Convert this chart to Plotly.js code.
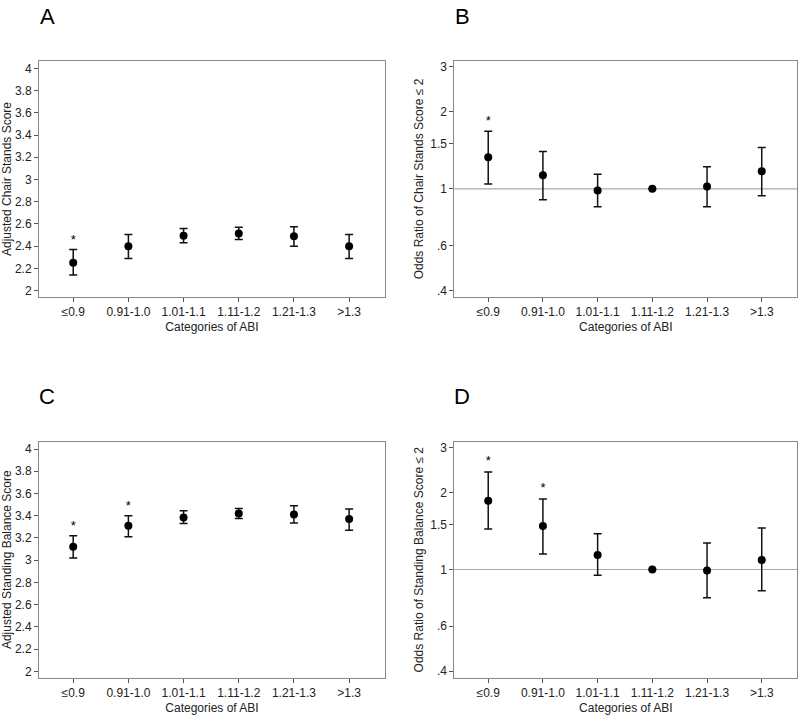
<!DOCTYPE html>
<html>
<head>
<meta charset="utf-8">
<script src="https://cdn.plot.ly/plotly-3.0.1.min.js"></script>
<style>html,body{margin:0;padding:0;background:#fff;}#chart{width:800px;height:715px;}</style>
</head>
<body>
<div id="chart"></div>
<script>
const categories = ['≤0.9', '0.91-1.0', '1.01-1.1', '1.11-1.2', '1.21-1.3', '>1.3'];

// Panel A: Adjusted Chair Stands Score
const chairScore = [2.25, 2.40, 2.495, 2.515, 2.49, 2.40];
const chairScoreLow = [2.14, 2.29, 2.43, 2.46, 2.40, 2.29];
const chairScoreHigh = [2.37, 2.505, 2.56, 2.57, 2.575, 2.505];
const chairScoreSig = [true, false, false, false, false, false];

// Panel B: Odds ratio of chair stands score <= 2
const chairOR = [1.33, 1.13, 0.985, 1.0, 1.02, 1.17];
const chairORLow = [1.045, 0.905, 0.85, 1.0, 0.85, 0.94];
const chairORHigh = [1.68, 1.40, 1.14, 1.0, 1.22, 1.45];
const chairORSig = [true, false, false, false, false, false];

// Panel C: Adjusted Standing Balance Score
const balScore = [3.12, 3.31, 3.385, 3.42, 3.41, 3.37];
const balScoreLow = [3.02, 3.21, 3.33, 3.375, 3.335, 3.27];
const balScoreHigh = [3.22, 3.40, 3.445, 3.465, 3.49, 3.46];
const balScoreSig = [true, true, false, false, false, false];

// Panel D: Odds ratio of standing balance score <= 2
const balOR = [1.86, 1.48, 1.14, 1.0, 0.99, 1.09];
const balORLow = [1.44, 1.15, 0.95, 1.0, 0.775, 0.825];
const balORHigh = [2.41, 1.89, 1.38, 1.0, 1.27, 1.455];
const balORSig = [true, true, false, false, false, false];

const linTicks = [2, 2.2, 2.4, 2.6, 2.8, 3, 3.2, 3.4, 3.6, 3.8, 4];
const logTicks = [0.4, 0.6, 1, 1.5, 2, 3];
const logTickText = ['.4', '.6', '1', '1.5', '2', '3'];

const FONT = 'Liberation Sans, Arial, sans-serif';

function pointTrace(est, lo, hi, xa, ya) {
  return {
    type: 'scatter', mode: 'markers', x: categories, y: est,
    xaxis: xa, yaxis: ya,
    marker: {color: '#000', size: 8},
    error_y: {
      type: 'data', symmetric: false,
      array: hi.map((h, i) => h - est[i]),
      arrayminus: lo.map((l, i) => est[i] - l),
      color: '#111', thickness: 1.5, width: 4
    },
    hoverinfo: 'skip', showlegend: false, cliponaxis: false
  };
}
function starTrace(hi, sig, xa, ya, isLog) {
  const xs = [], ys = [];
  sig.forEach((s, i) => {
    if (s) { xs.push(categories[i]); ys.push(isLog ? hi[i] * 1.03 : hi[i] + 0.02); }
  });
  return {
    type: 'scatter', mode: 'text', x: xs, y: ys, text: xs.map(() => '*'),
    textposition: 'top center', textfont: {family: FONT, size: 13, color: '#000'},
    xaxis: xa, yaxis: ya, hoverinfo: 'skip', showlegend: false, cliponaxis: false
  };
}

const data = [
  pointTrace(chairScore, chairScoreLow, chairScoreHigh, 'x', 'y'),
  starTrace(chairScoreHigh, chairScoreSig, 'x', 'y', false),
  pointTrace(chairOR, chairORLow, chairORHigh, 'x2', 'y2'),
  starTrace(chairORHigh, chairORSig, 'x2', 'y2', true),
  pointTrace(balScore, balScoreLow, balScoreHigh, 'x3', 'y3'),
  starTrace(balScoreHigh, balScoreSig, 'x3', 'y3', false),
  pointTrace(balOR, balORLow, balORHigh, 'x4', 'y4'),
  starTrace(balORHigh, balORSig, 'x4', 'y4', true)
];

function xAxis(domain, anchor) {
  return {
    domain: domain, anchor: anchor, type: 'category', categoryorder: 'array', categoryarray: categories,
    range: [-0.62, 5.65], showgrid: false, zeroline: false,
    showline: true, linecolor: '#888', linewidth: 1, mirror: true,
    ticks: 'outside', ticklen: 4, tickcolor: '#555',
    tickfont: {family: FONT, size: 12, color: '#222'},
    title: {text: 'Categories of ABI', font: {family: FONT, size: 12, color: '#222'}, standoff: 4},
    fixedrange: true
  };
}
function yLin(domain, anchor, title) {
  return {
    domain: domain, anchor: anchor, range: [1.943, 4.066], tickvals: linTicks,
    showgrid: false, zeroline: false,
    showline: true, linecolor: '#888', linewidth: 1, mirror: true,
    ticks: 'outside', ticklen: 4, tickcolor: '#555',
    tickfont: {family: FONT, size: 12, color: '#222'},
    title: {text: title, font: {family: FONT, size: 12, color: '#222'}, standoff: 4},
    fixedrange: true
  };
}
function yLog(domain, anchor, title) {
  return {
    domain: domain, anchor: anchor, type: 'log', range: [-0.424, 0.5006],
    tickvals: logTicks, ticktext: logTickText,
    showgrid: false, zeroline: false,
    showline: true, linecolor: '#888', linewidth: 1, mirror: true,
    ticks: 'outside', ticklen: 4, tickcolor: '#555',
    tickfont: {family: FONT, size: 12, color: '#222'},
    title: {text: title, font: {family: FONT, size: 12, color: '#222'}, standoff: 4},
    fixedrange: true
  };
}

const dxL = [39 / 800, 385 / 800];
const dxR = [454.3 / 800, 797.3 / 800];
const dyTop = [1 - 297 / 715, 1 - 61 / 715];
const dyBot = [1 - 677.7 / 715, 1 - 441.7 / 715];

function letter(t, x, y) {
  return {text: t, x: x, y: y, xref: 'paper', yref: 'paper', showarrow: false,
    xanchor: 'center', yanchor: 'middle', font: {family: FONT, size: 22, color: '#000'}};
}

const layout = {
  width: 800, height: 715,
  margin: {l: 0, r: 0, t: 0, b: 0},
  paper_bgcolor: '#fff', plot_bgcolor: '#fff',
  showlegend: false,
  xaxis: xAxis(dxL, 'y'), yaxis: yLin(dyTop, 'x', 'Adjusted Chair Stands Score'),
  xaxis2: xAxis(dxR, 'y2'), yaxis2: yLog(dyTop, 'x2', 'Odds Ratio of Chair Stands Score ≤ 2'),
  xaxis3: xAxis(dxL, 'y3'), yaxis3: yLin(dyBot, 'x3', 'Adjusted Standing Balance Score'),
  xaxis4: xAxis(dxR, 'y4'), yaxis4: yLog(dyBot, 'x4', 'Odds Ratio of Standing Balance Score ≤ 2'),
  shapes: [
    {type: 'line', xref: 'x2 domain', yref: 'y2', x0: 0, x1: 1, y0: 1, y1: 1, line: {color: '#aaa', width: 1.2}, layer: 'below'},
    {type: 'line', xref: 'x4 domain', yref: 'y4', x0: 0, x1: 1, y0: 1, y1: 1, line: {color: '#aaa', width: 1.2}, layer: 'below'}
  ],
  annotations: [
    letter('A', 47 / 800, 1 - 16 / 715),
    letter('B', 462 / 800, 1 - 16 / 715),
    letter('C', 47 / 800, 1 - 396 / 715),
    letter('D', 462 / 800, 1 - 396 / 715)
  ]
};

Plotly.newPlot('chart', data, layout, {displayModeBar: false, staticPlot: true});
</script>
</body>
</html>
